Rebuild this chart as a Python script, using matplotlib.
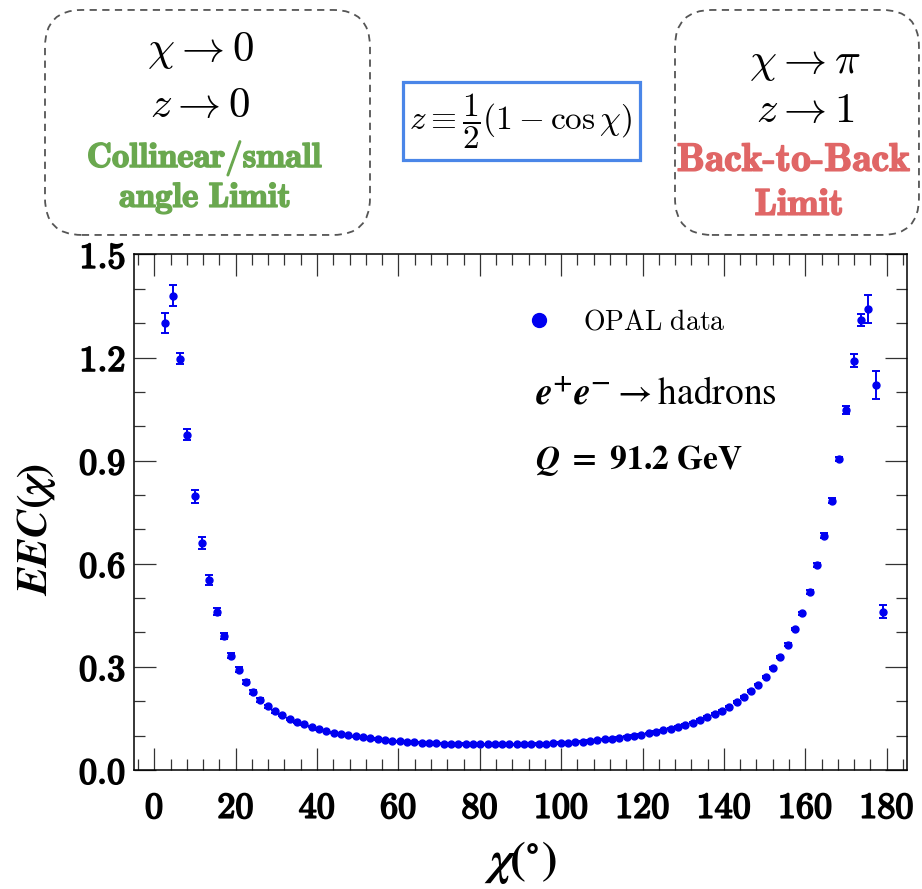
import matplotlib
matplotlib.use("Agg")
import matplotlib.pyplot as plt
import matplotlib.patheffects as pe
from matplotlib.patches import FancyBboxPatch
from matplotlib.lines import Line2D
from matplotlib.ticker import MultipleLocator, FixedLocator

plt.rcParams['mathtext.fontset'] = 'cm'

# OPAL EEC at Q = 91.2 GeV
chi = [2.7, 4.5, 6.3, 8.1, 9.9, 11.7, 13.5, 15.3, 17.1, 18.9,
       20.7, 22.5, 24.3, 26.1, 27.9, 29.7, 31.5, 33.3, 35.1, 36.9,
       38.7, 40.5, 42.3, 44.1, 45.9, 47.7, 49.5, 51.3, 53.1, 54.9,
       56.7, 58.5, 60.3, 62.1, 63.9, 65.7, 67.5, 69.3, 71.1, 72.9,
       74.7, 76.5, 78.3, 80.1, 81.9, 83.7, 85.5, 87.3, 89.1, 90.9,
       92.7, 94.5, 96.3, 98.1, 99.9, 101.7, 103.5, 105.3, 107.1, 108.9,
       110.7, 112.5, 114.3, 116.1, 117.9, 119.7, 121.5, 123.3, 125.1, 126.9,
       128.7, 130.5, 132.3, 134.1, 135.9, 137.7, 139.5, 141.3, 143.1, 144.9,
       146.7, 148.5, 150.3, 152.1, 153.9, 155.7, 157.5, 159.3, 161.1, 162.9,
       164.7, 166.5, 168.3, 170.1, 171.9, 173.7, 175.5, 177.3, 179.1]
eec = [1.300, 1.380, 1.197, 0.975, 0.796, 0.660, 0.553, 0.461, 0.390, 0.333,
       0.292, 0.255, 0.226, 0.203, 0.185, 0.171, 0.160, 0.149, 0.140, 0.133,
       0.126, 0.119, 0.114, 0.109, 0.105, 0.101, 0.098, 0.095, 0.093, 0.090,
       0.087, 0.085, 0.083, 0.081, 0.080, 0.0795, 0.0785, 0.0777, 0.0768, 0.0765,
       0.0758, 0.0755, 0.0749, 0.0747, 0.0746, 0.0745, 0.0745, 0.0746, 0.0747, 0.0749,
       0.0755, 0.0758, 0.0766, 0.0777, 0.0785, 0.0795, 0.0805, 0.082, 0.084, 0.086,
       0.089, 0.091, 0.094, 0.097, 0.100, 0.103, 0.107, 0.111, 0.115, 0.120,
       0.125, 0.131, 0.138, 0.146, 0.154, 0.163, 0.173, 0.184, 0.198, 0.212,
       0.230, 0.248, 0.271, 0.298, 0.328, 0.364, 0.410, 0.456, 0.518, 0.596,
       0.682, 0.784, 0.906, 1.047, 1.191, 1.310, 1.341, 1.120, 0.461]
err = [0.030, 0.031, 0.015, 0.016, 0.018, 0.018, 0.015, 0.010, 0.009, 0.008,
       0.007, 0.006, 0.006, 0.005, 0.005, 0.004, 0.004, 0.003, 0.003, 0.003,
       0.002, 0.002, 0.002, 0.002, 0.002, 0.002, 0.002, 0.002, 0.002, 0.002,
       0.002, 0.002, 0.002, 0.002, 0.002, 0.002, 0.002, 0.002, 0.002, 0.002,
       0.002, 0.002, 0.002, 0.002, 0.002, 0.002, 0.002, 0.002, 0.002, 0.002,
       0.002, 0.002, 0.002, 0.002, 0.002, 0.002, 0.002, 0.002, 0.002, 0.002,
       0.002, 0.002, 0.002, 0.002, 0.002, 0.002, 0.002, 0.002, 0.002, 0.002,
       0.002, 0.002, 0.002, 0.002, 0.002, 0.002, 0.002, 0.002, 0.002, 0.002,
       0.002, 0.002, 0.002, 0.003, 0.003, 0.004, 0.004, 0.005, 0.005, 0.006,
       0.007, 0.006, 0.006, 0.012, 0.018, 0.018, 0.040, 0.041, 0.019]

xticks = [0, 20, 40, 60, 80, 100, 120, 140, 160, 180]
yticks = [0.0, 0.3, 0.6, 0.9, 1.2, 1.5]

blue = '#0000f0'
green = '#6aa84f'
red = '#e06666'


def bold(color, w=1.1):
    # cmb10 is lighter than the extended bold of the original, thicken it a bit
    return [pe.withStroke(linewidth=w, foreground=color)]


fig = plt.figure(figsize=(9.22, 8.89), dpi=100)
ax = fig.add_axes([0.1453, 0.1339, 0.8384, 0.5799])

ax.errorbar(chi, eec, yerr=err, fmt='o', color=blue, ms=5,
            elinewidth=1.4, capsize=3, capthick=1.4)

ax.set_xlim(-5, 185)
ax.set_ylim(0, 1.5)
ax.xaxis.set_major_locator(FixedLocator(xticks))
ax.xaxis.set_minor_locator(MultipleLocator(4))
ax.yaxis.set_major_locator(FixedLocator(yticks))
ax.yaxis.set_minor_locator(MultipleLocator(0.1))
xl = ax.set_xticklabels([r'$\mathbf{%d}$' % t for t in xticks])
yl = ax.set_yticklabels([r'$\mathbf{%.1f}$' % t for t in yticks])
for lab in list(xl) + list(yl):
    lab.set_path_effects(bold('black', 1.3))
ax.tick_params(which='both', direction='in', top=True, right=True,
               width=0.9, color='#333333')
ax.tick_params(which='major', length=16, labelsize=26)
ax.tick_params(which='minor', length=8)
ax.tick_params(axis='x', which='major', pad=15)
ax.tick_params(axis='y', which='major', pad=6)
for s in ax.spines.values():
    s.set_linewidth(1.1)

ax.set_ylabel(r'$\mathbfit{EEC}\mathbf{(}\mathbfit{\chi}\mathbf{)}$',
              fontsize=31, math_fontfamily='stix')
ax.yaxis.set_label_coords(-0.098, 0.466)
ax.set_xlabel(r'$\mathbfit{\chi}\mathbf{(^{\circ})}$',
              fontsize=34, math_fontfamily='stix', labelpad=10)

# legend and process labels
h = Line2D([], [], marker='o', ls='none', color=blue, ms=10)
ax.legend([h], [r'$\mathrm{OPAL\ data}$'], loc='center left',
          bbox_to_anchor=(0.509, 0.869), frameon=False, fontsize=20,
          borderaxespad=0, borderpad=0, handlelength=0.8, handletextpad=1.2)
ax.text(0.519, 0.731, r'$\mathbfit{e}^{\mathbf{+}}\mathbfit{e}^{\mathbf{-}}\rightarrow\mathrm{hadrons}$',
        transform=ax.transAxes, fontsize=27, math_fontfamily='stix',
        ha='left', va='center')
ax.text(0.519, 0.601, r'$\mathbfit{Q}\mathbf{\ =\ 91.2\ GeV}$',
        transform=ax.transAxes, fontsize=24, math_fontfamily='stix',
        ha='left', va='center')

# boxes on top
asp = 922 / 889
for x0, w in [(0.0488, 0.3525), (0.7321, 0.2646)]:
    box = FancyBboxPatch((x0, 0.7357), w, 0.2531, transform=fig.transFigure,
                         boxstyle='round,pad=0,rounding_size=0.04',
                         mutation_aspect=asp, fill=False, ec='#555555',
                         ls=(0, (4, 3)), lw=1.3, clip_on=False)
    fig.add_artist(box)
fig.add_artist(FancyBboxPatch((0.4371, 0.8200), 0.2570, 0.0877,
                              transform=fig.transFigure, boxstyle='square,pad=0',
                              fill=False, ec='#4a86e8', lw=2.3))

fig.text(200 / 922, 1 - 50 / 889, r'$\chi\rightarrow0$', fontsize=31,
         ha='center', va='center')
fig.text(200 / 922, 1 - 105 / 889, r'$z\rightarrow0$', fontsize=31,
         ha='center', va='center')
t = fig.text(205 / 922, 1 - 158 / 889, r'$\mathbf{Collinear/small}$', fontsize=25,
             color=green, ha='center', va='center')
t.set_path_effects(bold(green))
t = fig.text(205 / 922, 1 - 198 / 889, r'$\mathbf{angle\ Limit}$', fontsize=25,
             color=green, ha='center', va='center')
t.set_path_effects(bold(green))

fig.text(805 / 922, 1 - 62 / 889, r'$\chi\rightarrow\pi$', fontsize=31,
         ha='center', va='center')
fig.text(805 / 922, 1 - 110 / 889, r'$z\rightarrow1$', fontsize=31,
         ha='center', va='center')
t = fig.text(794 / 922, 1 - 160 / 889, r'$\mathbf{Back\text{-}to\text{-}Back}$',
             fontsize=28.5, color=red, ha='center', va='center')
t.set_path_effects(bold(red))
t = fig.text(799 / 922, 1 - 205 / 889, r'$\mathbf{Limit}$', fontsize=27,
             color=red, ha='center', va='center')
t.set_path_effects(bold(red))

fig.text(521 / 922, 1 - 121 / 889, r'$z\equiv\dfrac{1}{2}(1-\cos\chi)$',
         fontsize=24, ha='center', va='center')

fig.savefig('out.png', dpi=100)
